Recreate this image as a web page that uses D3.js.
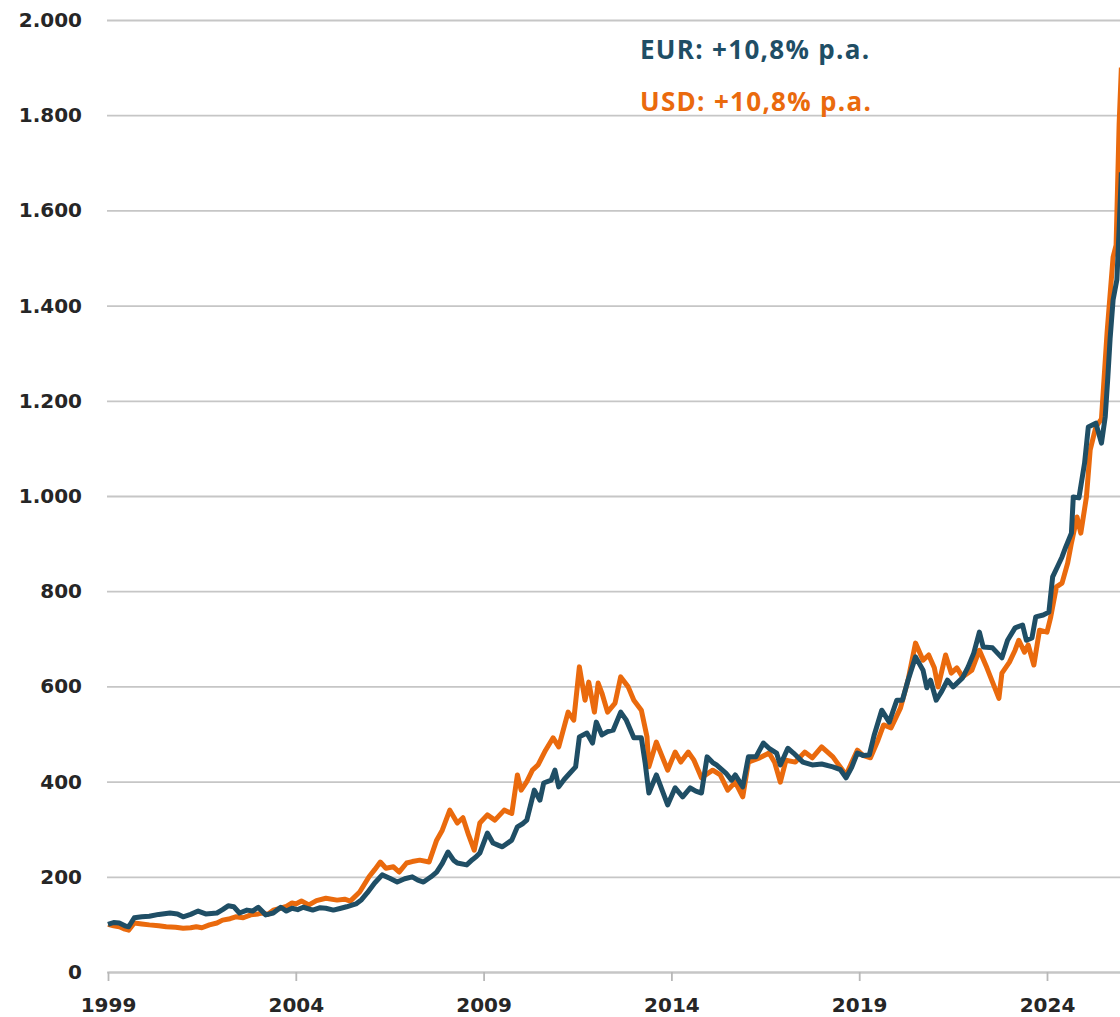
<!DOCTYPE html>
<html>
<head>
<meta charset="utf-8">
<script src="https://cdn.jsdelivr.net/npm/d3@7"></script>
<style>
  body { margin: 0; background: #fff; }
  svg { display: block; }
</style>
</head>
<body>
<svg id="chart"></svg>
<script>
// values (decimal year, index value)
const eurSeries = [
  [1999.0,100],[1999.15,104],[1999.3,103],[1999.45,97],[1999.55,95],[1999.7,114],[1999.9,116],
  [2000.1,117],[2000.35,121],[2000.65,124],[2000.85,122],[2001.0,116],[2001.2,121],[2001.4,128],
  [2001.6,122],[2001.9,124],[2002.05,131],[2002.2,139],[2002.35,137],[2002.5,124],[2002.7,130],
  [2002.85,128],[2003.0,136],[2003.2,120],[2003.4,124],[2003.6,136],[2003.75,128],[2003.9,134],
  [2004.05,131],[2004.2,136],[2004.45,130],[2004.65,135],[2004.8,134],[2005.0,130],[2005.2,134],
  [2005.35,137],[2005.6,143],[2005.75,152],[2005.9,166],[2006.1,187],[2006.3,204],[2006.5,197],
  [2006.7,189],[2006.9,196],[2007.1,200],[2007.25,193],[2007.4,189],[2007.6,200],[2007.75,210],
  [2007.9,228],[2008.05,252],[2008.2,235],[2008.3,229],[2008.55,225],[2008.7,236],[2008.8,242],
  [2008.9,250],[2009.1,292],[2009.25,271],[2009.4,266],[2009.5,263],[2009.75,277],[2009.9,305],
  [2010.05,312],[2010.15,319],[2010.35,382],[2010.5,361],[2010.6,397],[2010.8,403],[2010.9,424],
  [2011.0,389],[2011.15,405],[2011.3,418],[2011.45,431],[2011.55,494],[2011.75,502],[2011.9,481],
  [2012.0,525],[2012.15,498],[2012.3,505],[2012.45,508],[2012.65,546],[2012.8,529],[2013.0,492],
  [2013.2,492],[2013.3,440],[2013.4,376],[2013.6,414],[2013.9,351],[2014.1,387],[2014.3,368],
  [2014.5,387],[2014.65,380],[2014.8,376],[2014.95,452],[2015.1,440],[2015.2,435],[2015.45,418],
  [2015.6,403],[2015.7,414],[2015.9,389],[2016.05,452],[2016.25,452],[2016.45,481],[2016.6,470],
  [2016.8,460],[2016.9,435],[2017.1,470],[2017.25,460],[2017.5,441],[2017.75,435],[2018.0,437],
  [2018.3,431],[2018.5,425],[2018.65,408],[2018.8,430],[2018.95,460],[2019.1,455],[2019.27,456],
  [2019.4,498],[2019.6,550],[2019.8,525],[2020.0,571],[2020.15,571],[2020.3,613],[2020.5,662],
  [2020.7,634],[2020.8,597],[2020.9,613],[2021.05,571],[2021.2,590],[2021.35,613],[2021.5,599],
  [2021.75,618],[2021.9,641],[2022.05,670],[2022.2,714],[2022.3,683],[2022.55,681],[2022.8,660],
  [2022.95,697],[2023.15,723],[2023.35,729],[2023.45,697],[2023.6,702],[2023.7,746],[2023.9,750],
  [2024.05,756],[2024.15,830],[2024.3,855],[2024.4,872],[2024.5,893],[2024.65,922],[2024.7,998],
  [2024.85,996],[2025.0,1069],[2025.1,1145],[2025.3,1153],[2025.45,1111],[2025.55,1166],
  [2025.62,1250],[2025.68,1330],[2025.76,1412],[2025.86,1454],[2025.92,1560],[2025.98,1680]
];

const usdSeries = [
  [1999.0,100],[1999.15,97],[1999.3,95],[1999.45,90],[1999.55,88],[1999.7,103],[1999.9,101],
  [2000.1,99],[2000.35,97],[2000.55,95],[2000.8,94],[2001.0,92],[2001.2,93],[2001.35,95],
  [2001.5,93],[2001.7,99],[2001.9,103],[2002.05,109],[2002.25,112],[2002.4,116],[2002.6,114],
  [2002.8,120],[2003.0,122],[2003.1,124],[2003.25,121],[2003.4,130],[2003.6,134],[2003.75,138],
  [2003.9,145],[2004.0,143],[2004.15,149],[2004.35,141],[2004.55,150],[2004.8,155],[2005.1,151],
  [2005.3,153],[2005.45,149],[2005.7,168],[2005.95,200],[2006.1,215],[2006.25,231],[2006.4,218],
  [2006.6,221],[2006.75,210],[2006.95,229],[2007.1,232],[2007.3,235],[2007.55,231],[2007.75,277],
  [2007.9,298],[2008.1,340],[2008.3,313],[2008.45,324],[2008.6,288],[2008.75,256],[2008.9,313],
  [2009.1,330],[2009.3,319],[2009.55,340],[2009.75,333],[2009.9,414],[2010.0,382],[2010.15,400],
  [2010.3,424],[2010.45,435],[2010.65,466],[2010.85,492],[2011.0,473],[2011.25,546],[2011.4,529],
  [2011.55,641],[2011.7,571],[2011.8,609],[2011.95,546],[2012.05,607],[2012.15,586],[2012.3,546],
  [2012.5,565],[2012.65,620],[2012.85,599],[2013.0,571],[2013.2,550],[2013.35,494],[2013.4,431],
  [2013.6,483],[2013.9,424],[2014.1,462],[2014.25,441],[2014.45,462],[2014.6,445],[2014.8,408],
  [2015.1,424],[2015.3,414],[2015.5,382],[2015.7,399],[2015.9,368],[2016.05,441],[2016.35,450],
  [2016.6,460],[2016.75,440],[2016.9,399],[2017.05,445],[2017.3,441],[2017.55,462],[2017.75,450],
  [2018.0,473],[2018.3,452],[2018.5,430],[2018.65,414],[2018.8,440],[2018.95,466],[2019.1,455],
  [2019.3,450],[2019.5,487],[2019.65,519],[2019.85,513],[2020.1,555],[2020.3,613],[2020.5,691],
  [2020.7,655],[2020.85,666],[2021.0,639],[2021.1,599],[2021.3,666],[2021.45,628],[2021.6,639],
  [2021.75,620],[2022.0,634],[2022.2,676],[2022.4,639],[2022.6,599],[2022.72,575],[2022.8,628],
  [2023.0,651],[2023.15,676],[2023.25,697],[2023.4,672],[2023.5,687],[2023.65,645],[2023.8,718],
  [2024.0,714],[2024.1,746],[2024.25,809],[2024.4,817],[2024.55,859],[2024.65,901],[2024.8,956],
  [2024.9,922],[2025.05,998],[2025.15,1097],[2025.3,1145],[2025.45,1162],[2025.6,1344],
  [2025.76,1502],[2025.84,1527],[2025.92,1780],[2025.98,1900]
];

const yearTicks = [1999, 2004, 2009, 2014, 2019, 2024];
const valueTicks = [0, 200, 400, 600, 800, 1000, 1200, 1400, 1600, 1800, 2000];
const legendLabels = ["EUR: +10,8% p.a.", "USD: +10,8% p.a."];

const width = 1120, height = 1017;
const plotLeft = 107, plotRight = 1120, plotTop = 20, plotBottom = 972;
const eurColor = "#1f4e65", usdColor = "#ea6a0d";

const svg = d3.select("#chart")
  .attr("width", width)
  .attr("height", height);

const x = d3.scaleLinear()
  .domain([1999, 1999 + (plotRight - 108) / 37.56])
  .range([108, plotRight]);
const y = d3.scaleLinear()
  .domain([0, 2000])
  .range([plotBottom, plotTop]);

const de = d3.formatLocale({ decimal: ",", thousands: ".", grouping: [3], currency: ["", " €"] });
const fmt = de.format(",d");

// y axis + gridlines
const yAxisG = svg.append("g")
  .attr("transform", `translate(${plotLeft},0)`)
  .call(d3.axisLeft(y).tickValues(valueTicks).tickFormat(fmt)
    .tickSize(-(plotRight - plotLeft)).tickPadding(25));
yAxisG.select(".domain").remove();
yAxisG.selectAll(".tick line")
  .attr("stroke", "#c6c6c6")
  .attr("stroke-width", 1.8);
yAxisG.selectAll(".tick text")
  .attr("fill", "#262626")
  .style("font-family", "'DejaVu Sans', sans-serif")
  .style("font-weight", "bold")
  .style("font-size", "20px");

// x axis
const xAxisG = svg.append("g")
  .attr("transform", `translate(0,${plotBottom})`)
  .call(d3.axisBottom(x).tickValues(yearTicks).tickFormat(d3.format("d"))
    .tickSize(9).tickSizeOuter(0));
xAxisG.select(".domain")
  .attr("stroke", "#c6c6c6")
  .attr("stroke-width", 1.8);
xAxisG.selectAll(".tick line")
  .attr("stroke", "#b8b8b8")
  .attr("stroke-width", 1.8);
xAxisG.selectAll(".tick text")
  .attr("y", 40)
  .attr("dy", null)
  .attr("fill", "#262626")
  .style("font-family", "'DejaVu Sans', sans-serif")
  .style("font-weight", "bold")
  .style("font-size", "20px");

const line = d3.line()
  .x(d => x(d[0]))
  .y(d => y(d[1]));

svg.append("path")
  .datum(usdSeries)
  .attr("d", line)
  .attr("fill", "none")
  .attr("stroke", usdColor)
  .attr("stroke-width", 5)
  .attr("stroke-linejoin", "round");

svg.append("path")
  .datum(eurSeries)
  .attr("d", line)
  .attr("fill", "none")
  .attr("stroke", eurColor)
  .attr("stroke-width", 5)
  .attr("stroke-linejoin", "round");

// legend
svg.selectAll(".legend")
  .data(legendLabels)
  .join("text")
  .attr("class", "legend")
  .attr("x", 640)
  .attr("y", (d, i) => 59 + i * 52)
  .attr("fill", (d, i) => i === 0 ? eurColor : usdColor)
  .style("font-family", "'Open Sans', sans-serif")
  .style("font-weight", 700)
  .style("font-size", "26px")
  .style("letter-spacing", "1.3px")
  .text(d => d);
</script>
</body>
</html>
